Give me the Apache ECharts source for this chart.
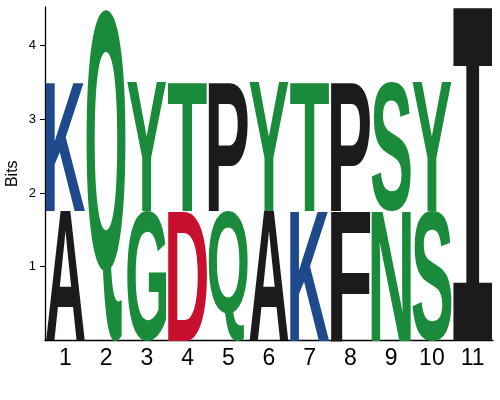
<!DOCTYPE html>
<html>
<head>
<meta charset="utf-8">
<script src="https://cdn.jsdelivr.net/npm/echarts@6/dist/echarts.min.js"></script>
<style>
  html, body { margin: 0; padding: 0; background: #fff; }
  #main { width: 500px; height: 400px; }
</style>
</head>
<body>
<div id="main"></div>
<script>
// sequence logo data: two stacks per position (lower / upper letter)
var positions = ['1', '2', '3', '4', '5', '6', '7', '8', '9', '10', '11'];
var lowerLetters = ['A', 'Q', 'G', 'D', 'Q', 'A', 'K', 'F', 'N', 'S', 'I'];
var lowerBits = [1.76, 4.51, 1.76, 1.76, 1.76, 1.76, 1.76, 1.76, 1.76, 1.76, 4.51];
var upperLetters = ['K', '', 'Y', 'T', 'P', 'Y', 'T', 'P', 'S', 'Y', ''];
var upperBits = [1.75, 0, 1.75, 1.75, 1.75, 1.75, 1.75, 1.75, 1.75, 1.75, 0];
var yTicks = [1, 2, 3, 4];

var colorOf = {
  A: '#1c1a1d', P: '#1c1a1d', F: '#1c1a1d', I: '#1c1a1d',
  K: '#1e4a8b',
  D: '#c8102e',
  Q: '#1a8a3b', G: '#1a8a3b', Y: '#1a8a3b', T: '#1a8a3b', N: '#1a8a3b', S: '#1a8a3b'
};

var FONT = 'bold 200px "Liberation Sans"';
var FONT_I = 'bold 200px "DejaVu Sans Mono"';

// measure glyph ink box relative to a center/middle anchor
var mctx = document.createElement('canvas').getContext('2d');
function inkBox(ch, font) {
  mctx.font = font;
  mctx.textAlign = 'center';
  mctx.textBaseline = 'middle';
  var m = mctx.measureText(ch);
  return {
    left: -m.actualBoundingBoxLeft,
    right: m.actualBoundingBoxRight,
    top: -m.actualBoundingBoxAscent,
    bottom: m.actualBoundingBoxDescent
  };
}
var boxes = {};
function glyphBox(ch) {
  if (boxes[ch]) return boxes[ch];
  var font = ch === 'I' ? FONT_I : FONT;
  var b = inkBox(ch, font);
  if (ch === 'Q') {
    // fit the bowl, not the tail, to the column width
    var o = inkBox('O', font);
    b.left = o.left;
    b.right = o.right;
  }
  b.font = font;
  boxes[ch] = b;
  return b;
}

// build stacked items
var stackData = [];
var stackLetters = [];
positions.forEach(function (p, i) {
  stackData.push([i, 0, lowerBits[i]]);
  stackLetters.push(lowerLetters[i]);
  if (upperLetters[i]) {
    stackData.push([i, lowerBits[i], lowerBits[i] + upperBits[i]]);
    stackLetters.push(upperLetters[i]);
  }
});

function renderLetter(params, api) {
  var ch = stackLetters[params.dataIndex];
  var i = api.value(0);
  var p0 = api.coord([i, api.value(1)]);
  var p1 = api.coord([i, api.value(2)]);
  var bw = api.size([1, 0])[0] * 0.96;
  var bh = p0[1] - p1[1];
  var g = glyphBox(ch);
  var sx = bw / (g.right - g.left);
  var sy = bh / (g.bottom - g.top);
  var cx = (g.left + g.right) / 2;
  var cy = (g.top + g.bottom) / 2;
  return {
    type: 'text',
    silent: true,
    x: p0[0] - sx * cx,
    y: (p0[1] + p1[1]) / 2 - sy * cy,
    scaleX: sx,
    scaleY: sy,
    style: {
      text: ch,
      font: g.font,
      fill: colorOf[ch],
      align: 'center',
      verticalAlign: 'middle'
    }
  };
}

var chart = echarts.init(document.getElementById('main'));
chart.setOption({
  animation: false,
  grid: { left: 45, right: 7, top: 7, bottom: 59.5, containLabel: false, outerBoundsMode: 'none' },
  xAxis: {
    type: 'category',
    data: positions,
    boundaryGap: true,
    axisLine: { lineStyle: { color: '#000', width: 1.3 } },
    axisTick: { alignWithLabel: true, length: 3, lineStyle: { color: '#000' } },
    axisLabel: { color: '#000', fontSize: 23, fontFamily: 'Liberation Sans', margin: 7 },
    splitLine: { show: false }
  },
  yAxis: {
    type: 'value',
    min: 0,
    max: 4.52,
    name: 'Bits',
    nameLocation: 'middle',
    nameGap: 24,
    nameMoveOverlap: false,
    nameTextStyle: { color: '#000', fontSize: 16, fontFamily: 'Liberation Sans' },
    axisLine: { show: true, lineStyle: { color: '#000', width: 1.3 } },
    axisTick: { show: true, length: 5, customValues: yTicks, lineStyle: { color: '#000' } },
    axisLabel: { color: '#000', fontSize: 13, fontFamily: 'Liberation Sans', margin: 9, customValues: yTicks },
    splitLine: { show: false }
  },
  series: [{
    type: 'custom',
    renderItem: renderLetter,
    data: stackData,
    encode: { x: 0, y: [1, 2] },
    clip: false
  }]
});
</script>
</body>
</html>
